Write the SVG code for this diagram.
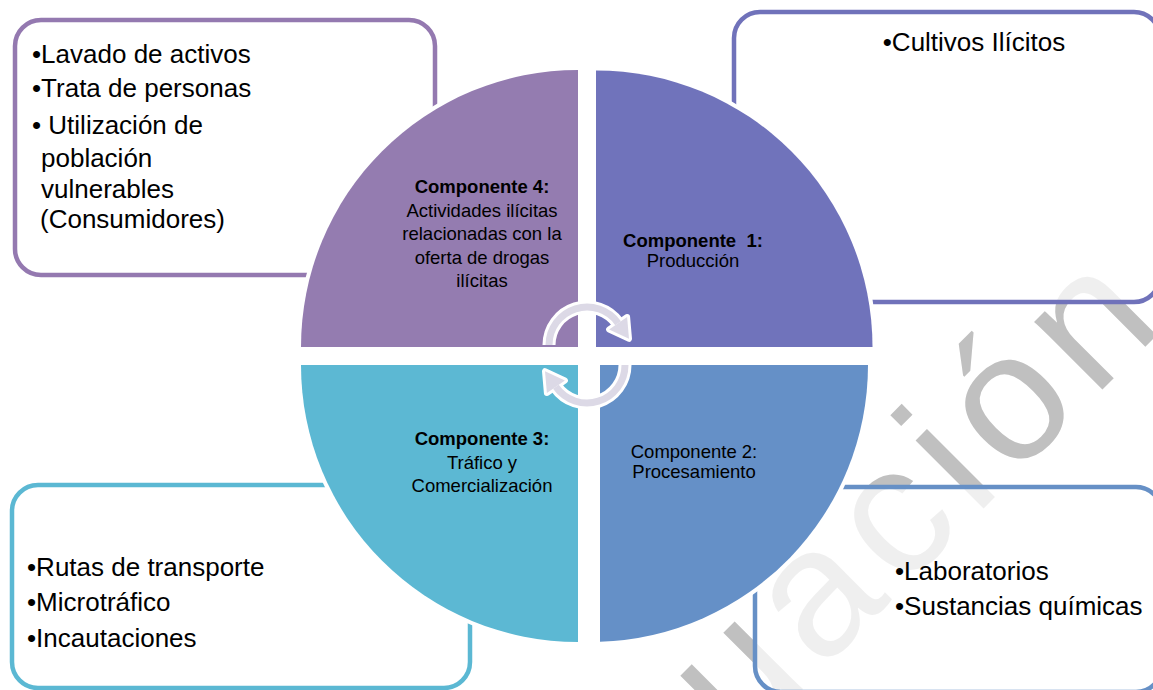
<svg xmlns="http://www.w3.org/2000/svg" width="1153" height="690" viewBox="0 0 1153 690">
<style>
  .box { fill: #ffffff; fill-opacity: 0.75; stroke-width: 4.5; }
  .quad { stroke: #ffffff; stroke-width: 8; paint-order: stroke fill; }
  .big { font-family: "Liberation Sans", Arial, sans-serif; font-size: 26px; fill: #000000; }
  .lbl { font-family: "Liberation Sans", Arial, sans-serif; font-size: 18.5px; fill: #000000; text-anchor: middle; }
  .b { font-weight: bold; }
  .wm { font-family: "Liberation Sans", Arial, sans-serif; font-size: 182px; fill: #c0c0c0; letter-spacing: 13px; }
  .band-w { fill: none; stroke: #ffffff; stroke-width: 13; }
  .band { fill: none; stroke: #dcd9e6; stroke-width: 7; }
  .head-w { fill: #ffffff; stroke: #ffffff; stroke-width: 6; stroke-linejoin: round; }
  .head { fill: #dcd9e6; }
</style>

<!-- watermark (behind everything) -->
<text class="wm" transform="translate(740,752) rotate(-45)">uación</text>

<!-- outer boxes -->
<g id="box-componente4">
  <rect class="box" x="15" y="20" width="420" height="255" rx="26" stroke="#9479b0"/>
</g>
<g id="box-componente1">
  <rect class="box" x="734" y="12" width="426" height="290" rx="26" stroke="#7072ba"/>
</g>
<g id="box-componente2">
  <rect class="box" x="755" y="487" width="407" height="205" rx="26" stroke="#6690c6"/>
</g>
<g id="box-componente3">
  <rect class="box" x="12" y="485" width="458" height="203" rx="26" stroke="#5bb8d3"/>
</g>

<!-- quadrants -->
<g id="quad-componente4">
  <path class="quad" d="M578,347 L301,347 A277,277 0 0 1 578,70 Z" fill="#947cb0"/>
</g>
<g id="quad-componente1">
  <path class="quad" d="M596,347 L596,70.5 A276.5,276.5 0 0 1 872.5,347 Z" fill="#7073bb"/>
</g>
<g id="quad-componente2">
  <path class="quad" d="M600,365 L868,365 A277,277 0 0 1 600,641.8 Z" fill="#6590c7"/>
</g>
<g id="quad-componente3">
  <path class="quad" d="M578,365 L578,642 A277,277 0 0 1 301,365 Z" fill="#5cb8d3"/>
</g>

<!-- connectors: circular arrows -->
<g id="connectors">
  <path class="band-w" d="M549,345 A38,38 0 0 1 618.1,323.2"/>
  <polygon class="head-w" points="627.1,316.9 609.1,329.5 629,338.8"/>
  <path class="band-w" d="M625,365 A38,38 0 0 1 555.9,386.8"/>
  <polygon class="head-w" points="546.9,393.1 564.9,380.5 545,371.2"/>
  <path class="band" d="M549,345 A38,38 0 0 1 618.1,323.2"/>
  <polygon class="head" points="627.1,316.9 609.1,329.5 629,338.8"/>
  <path class="band" d="M625,365 A38,38 0 0 1 555.9,386.8"/>
  <polygon class="head" points="546.9,393.1 564.9,380.5 545,371.2"/>
</g>

<!-- box texts -->
<g id="text-box4" class="big">
  <text x="32" y="63">•Lavado de activos</text>
  <text x="32" y="97">•Trata de personas</text>
  <text x="32" y="134" xml:space="preserve">• Utilización de</text>
  <text x="41" y="167">población</text>
  <text x="41" y="198">vulnerables</text>
  <text x="40" y="228">(Consumidores)</text>
</g>
<g id="text-box1" class="big">
  <text x="974" y="51" text-anchor="middle">•Cultivos Ilícitos</text>
</g>
<g id="text-box2" class="big">
  <text x="895" y="580">•Laboratorios</text>
  <text x="895" y="615">•Sustancias químicas</text>
</g>
<g id="text-box3" class="big">
  <text x="27" y="576">•Rutas de transporte</text>
  <text x="27" y="611">•Microtráfico</text>
  <text x="27" y="647">•Incautaciones</text>
</g>

<!-- quadrant labels -->
<g id="label-componente4" class="lbl">
  <text x="482" y="193" class="b">Componente 4:</text>
  <text x="482" y="216.5">Actividades ilícitas</text>
  <text x="482" y="240">relacionadas con la</text>
  <text x="482" y="263.5">oferta de drogas</text>
  <text x="482" y="287">ilícitas</text>
</g>
<g id="label-componente1" class="lbl">
  <text x="693" y="247" class="b" xml:space="preserve">Componente  1:</text>
  <text x="693" y="267">Producción</text>
</g>
<g id="label-componente2" class="lbl">
  <text x="694" y="458">Componente 2:</text>
  <text x="694" y="478">Procesamiento</text>
</g>
<g id="label-componente3" class="lbl">
  <text x="482" y="445" class="b">Componente 3:</text>
  <text x="482" y="469">Tráfico y</text>
  <text x="482" y="492">Comercialización</text>
</g>
</svg>
